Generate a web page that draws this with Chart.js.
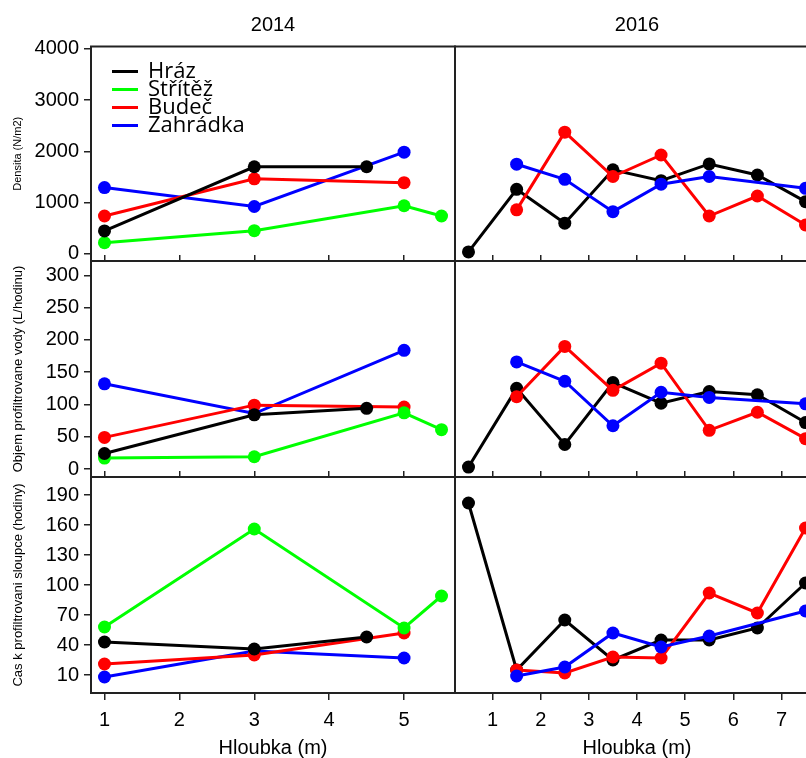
<!DOCTYPE html>
<html>
<head>
<meta charset="utf-8">
<script src="https://cdn.jsdelivr.net/npm/chart.js@4/dist/chart.umd.min.js"></script>
<style>
  html, body { margin: 0; padding: 0; background: #fff; }
  #wrap { position: relative; width: 806px; height: 758px; overflow: hidden; background: #fff; }
  #wrap canvas { position: absolute; }
</style>
</head>
<body>
<div id="wrap"></div>
<script>
// Sampling sites
const SITES = ['Hráz', 'Střítěž', 'Budeč', 'Zahrádka'];
const SITE_COLORS = ['#000000', '#00ff00', '#ff0000', '#0000ff'];

// Sampling depths (m)
const DEPTHS_2014 = [1, 3, 4.5, 5, 5.5];
const DEPTHS_2016 = [0.5, 1.5, 2.5, 3.5, 4.5, 5.5, 6.5, 7.5];

// Density (N/m2) - one row per site, aligned with the depths
const DENSITA_2014 = [
  [450, 1700, 1700, null, null],
  [220, 455, null, 940, 740],
  [740, 1465, null, 1390, null],
  [1295, 925, null, 1985, null]
];
const DENSITA_2016 = [
  [40, 1260, 600, 1640, 1430, 1755, 1540, 1020],
  [null, null, null, null, null, null, null, null],
  [null, 860, 2375, 1510, 1930, 740, 1130, 565],
  [null, 1750, 1455, 825, 1360, 1510, null, 1280]
];

// Filtered water volume (L/hour)
const OBJEM_2014 = [
  [24, 84, 94, null, null],
  [17, 19, null, 87, 61],
  [49, 99, null, 96, null],
  [132, 86, null, 184, null]
];
const OBJEM_2016 = [
  [3, 125, 38, 134, 102, 120, 115, 72],
  [null, null, null, null, null, null, null, null],
  [null, 112, 190, 122, 164, 60, 88, 47],
  [null, 166, 136, 67, 119, 111, null, 101]
];

// Time to filter the water column (hours)
const CAS_2014 = [
  [43, 36, 48, null, null],
  [58, 156, null, 57, 89],
  [21, 30, null, 52, null],
  [8, 34, null, 27, null]
];
const CAS_2016 = [
  [182, 15, 65, 25, 45, 45, 57, 102],
  [null, null, null, null, null, null, null, null],
  [null, 15, 12, 28, 27, 92, 72, 157],
  [null, 9, 18, 52, 38, 49, null, 74]
];

// Tick values
const TICKS_DENSITA = [0, 1000, 2000, 3000, 4000];
const TICKS_OBJEM = [0, 50, 100, 150, 200, 250, 300];
const TICKS_CAS = [10, 40, 70, 100, 130, 160, 190];
const TICKS_X_2014 = [1, 2, 3, 4, 5];
const TICKS_X_2016 = [1, 2, 3, 4, 5, 6, 7];

const YEAR_LABELS = ['2014', '2016'];
const ROW_TITLES = ['Densita (N/m2)', 'Objem profiltrovane vody (L/hodinu)', 'Cas k profiltrovani sloupce (hodiny)'];
const X_TITLE = 'Hloubka (m)';

Chart.defaults.font.family = '"Liberation Sans", Arial, sans-serif';
Chart.defaults.color = '#000';

const INK = '#222';
const wrap = document.getElementById('wrap');

// Frame around each plotting region
const panelFrame = {
  id: 'panelFrame',
  beforeDatasetsDraw(chart) {
    const { ctx, chartArea: a } = chart;
    ctx.save();
    ctx.strokeStyle = INK;
    ctx.lineWidth = 2;
    ctx.strokeRect(a.left, a.top, a.right - a.left, a.bottom - a.top);
    ctx.restore();
  }
};

// Site legend drawn inside the first panel
const siteLegend = {
  id: 'siteLegend',
  afterDatasetsDraw(chart) {
    const { ctx, chartArea: a } = chart;
    ctx.save();
    ctx.font = '22px "Open Sans", sans-serif';
    ctx.textBaseline = 'middle';
    ctx.textAlign = 'left';
    SITES.forEach((name, i) => {
      const y = a.top + 25 + i * 18;
      ctx.strokeStyle = SITE_COLORS[i];
      ctx.lineWidth = 3;
      ctx.beginPath();
      ctx.moveTo(a.left + 21, y);
      ctx.lineTo(a.left + 47, y);
      ctx.stroke();
      ctx.fillStyle = '#000';
      ctx.fillText(name, a.left + 57, y);
    });
    ctx.restore();
  }
};

function siteDatasets(depths, rows, blackOnTop) {
  return SITES.map((name, i) => ({
    label: name,
    data: depths.map((d, j) => ({ x: d, y: rows[i][j] })).filter(p => p.y !== null),
    borderColor: SITE_COLORS[i],
    backgroundColor: SITE_COLORS[i],
    pointBackgroundColor: SITE_COLORS[i],
    pointBorderWidth: 0,
    pointRadius: 6.5,
    borderWidth: 3,
    tension: 0,
    clip: false,
    order: blackOnTop ? i : SITES.length - 1 - i
  })).filter(ds => ds.data.length > 0);
}

function setTicks(values) {
  return scale => { scale.ticks = values.map(v => ({ value: v })); };
}
const plainNumber = v => String(v);

// Fix an axis band to an exact size, with no extra margins for labels
function fixSize(prop, size) {
  return s => {
    s[prop] = size;
    s.paddingTop = 0; s.paddingBottom = 0; s.paddingLeft = 0; s.paddingRight = 0;
  };
}

function panel(cfg) {
  const P = 2;
  const { area, leftW, topH, bottomH } = cfg;
  const w = Math.round(area.r - area.l + leftW + 2 * P);
  const h = Math.round(area.b - area.t + topH + bottomH + 2 * P);
  const c = document.createElement('canvas');
  c.width = w; c.height = h;
  c.style.width = w + 'px'; c.style.height = h + 'px';
  c.style.left = (area.l - leftW - P) + 'px';
  c.style.top = (area.t - topH - P) + 'px';
  wrap.appendChild(c);

  const scales = {
    x: {
      type: 'linear', position: 'bottom',
      min: cfg.xRange[0], max: cfg.xRange[1],
      afterBuildTicks: setTicks(cfg.xTicks),
      afterFit: fixSize('height', bottomH),
      ticks: { display: cfg.xLabels, font: { size: 20 }, color: '#000', padding: 8, autoSkip: false, maxRotation: 0, callback: plainNumber },
      grid: { display: true, drawOnChartArea: false, drawTicks: true, tickLength: cfg.xLabels ? 7 : -6, color: INK, lineWidth: 1.5 },
      border: { display: false },
      title: { display: cfg.xLabels, text: X_TITLE, font: { size: 20 }, color: '#000', padding: { top: 0, bottom: -2 } }
    },
    y: {
      type: 'linear', position: 'left', display: cfg.yLabels,
      min: cfg.yRange[0], max: cfg.yRange[1],
      afterBuildTicks: setTicks(cfg.yTicks),
      afterFit: fixSize('width', leftW),
      ticks: { font: { size: 20 }, color: '#000', padding: 5, callback: plainNumber },
      grid: { drawOnChartArea: false, drawTicks: true, tickLength: 7, color: INK, lineWidth: 1.5 },
      border: { display: false },
      title: {
        display: true, text: cfg.yTitle, color: '#000',
        font: { size: cfg.yTitleSize },
        padding: { top: 18 - cfg.yTitleSize * 0.6, bottom: 0 }
      }
    }
  };
  if (cfg.year) {
    scales.xt = {
      type: 'linear', position: 'top',
      min: cfg.xRange[0], max: cfg.xRange[1],
      afterFit: fixSize('height', topH),
      grid: { display: false }, border: { display: false }, ticks: { display: false },
      title: { display: true, text: cfg.year, font: { size: 20 }, color: '#000', padding: { top: 13.3, bottom: 0 } }
    };
  }

  new Chart(c, {
    type: 'line',
    data: { datasets: siteDatasets(cfg.depths, cfg.rows, cfg.blackOnTop) },
    options: {
      responsive: false, animation: false, devicePixelRatio: 1, events: [],
      layout: { padding: P, autoPadding: false },
      plugins: { legend: { display: false }, tooltip: { enabled: false }, title: { display: false } },
      scales
    },
    plugins: cfg.legend ? [panelFrame, siteLegend] : [panelFrame]
  });
}

// Panel grid geometry
const COL_X = [[91, 455], [455, 819]];
const ROW_Y = [[46.5, 261], [261, 477], [477, 693]];
const X_RANGES = [[0.82, 5.68], [0.22, 7.78]];
const Y_RANGES = [[-137, 4045], [-12.4, 322.4], [-8, 208]];
const Y_TICKS = [TICKS_DENSITA, TICKS_OBJEM, TICKS_CAS];
const X_TICKS = [TICKS_X_2014, TICKS_X_2016];
const DEPTHS = [DEPTHS_2014, DEPTHS_2016];
const DATA = [[DENSITA_2014, DENSITA_2016], [OBJEM_2014, OBJEM_2016], [CAS_2014, CAS_2016]];
const TITLE_SIZES = [11, 13, 13];

for (let r = 0; r < 3; r++) {
  for (let col = 0; col < 2; col++) {
    panel({
      area: { l: COL_X[col][0], r: COL_X[col][1], t: ROW_Y[r][0], b: ROW_Y[r][1] },
      leftW: col === 0 ? 91 : 0,
      topH: r === 0 ? 46.5 : 0,
      bottomH: r === 2 ? 65 : 0,
      xRange: X_RANGES[col], yRange: Y_RANGES[r],
      xTicks: X_TICKS[col], yTicks: Y_TICKS[r],
      xLabels: r === 2, yLabels: col === 0,
      yTitle: ROW_TITLES[r], yTitleSize: TITLE_SIZES[r],
      year: r === 0 ? YEAR_LABELS[col] : null,
      depths: DEPTHS[col], rows: DATA[r][col],
      blackOnTop: col === 0,
      legend: r === 0 && col === 0
    });
  }
}
</script>
</body>
</html>
